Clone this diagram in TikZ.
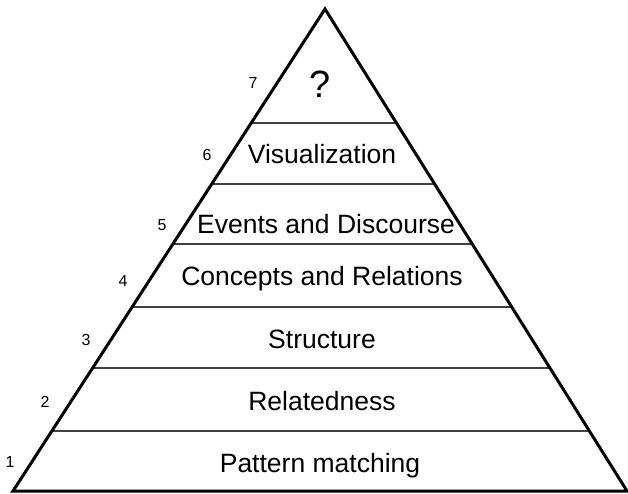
\documentclass[tikz,border=0pt]{standalone}
\usepackage{fontspec}
\setmainfont{Liberation Sans}
\usetikzlibrary{calc}

\tikzset{
    layer/.style={anchor=base, font=\fontsize{26.5}{30}\selectfont},
    level/.style={font=\fontsize{16}{18}\selectfont},
    divider/.style={line width=1.3pt, black!75}
}

\begin{document}
\begin{tikzpicture}[x=1pt, y=-1pt]
                \useasboundingbox (0, 0) rectangle (628, 493);
                \coordinate (apex) at (325, 9);
                \coordinate (bl) at (13, 491);
                \coordinate (br) at (627, 491);

                % layer boundaries
                \foreach \t in {0.1245, 0.2552, 0.3817, 0.5124, 0.6369, 0.7635}
                    {
                        \draw[divider] ($(bl)!\t!(apex)$) -- ($(br)!\t!(apex)$);
                    }
                \draw[line width=3pt, line join=miter] (bl) -- (apex) -- (br) -- cycle;

                \node[layer] (pattern) at (320, 472) {Pattern matching};
                \node[layer] (related) at (322, 410) {Relatedness};
                \node[layer] (struct) at (322, 348) {Structure};
                \node[layer] (concepts) at (322, 285) {Concepts and Relations};
                \node[layer] (events) at (326, 233) {Events and Discourse};
                \node[layer] (visual) at (322, 163) {Visualization};
                \node[layer, font=\fontsize{38}{42}\selectfont] (unknown) at (320, 97) {?};

                \node[level] (n1) at (10, 462) {1};
                \node[level] (n2) at (45, 402) {2};
                \node[level] (n3) at (86, 340) {3};
                \node[level] (n4) at (123, 281) {4};
                \node[level] (n5) at (162, 225) {5};
                \node[level] (n6) at (207, 155) {6};
                \node[level] (n7) at (253, 83) {7};
            \end{tikzpicture}
\end{document}
